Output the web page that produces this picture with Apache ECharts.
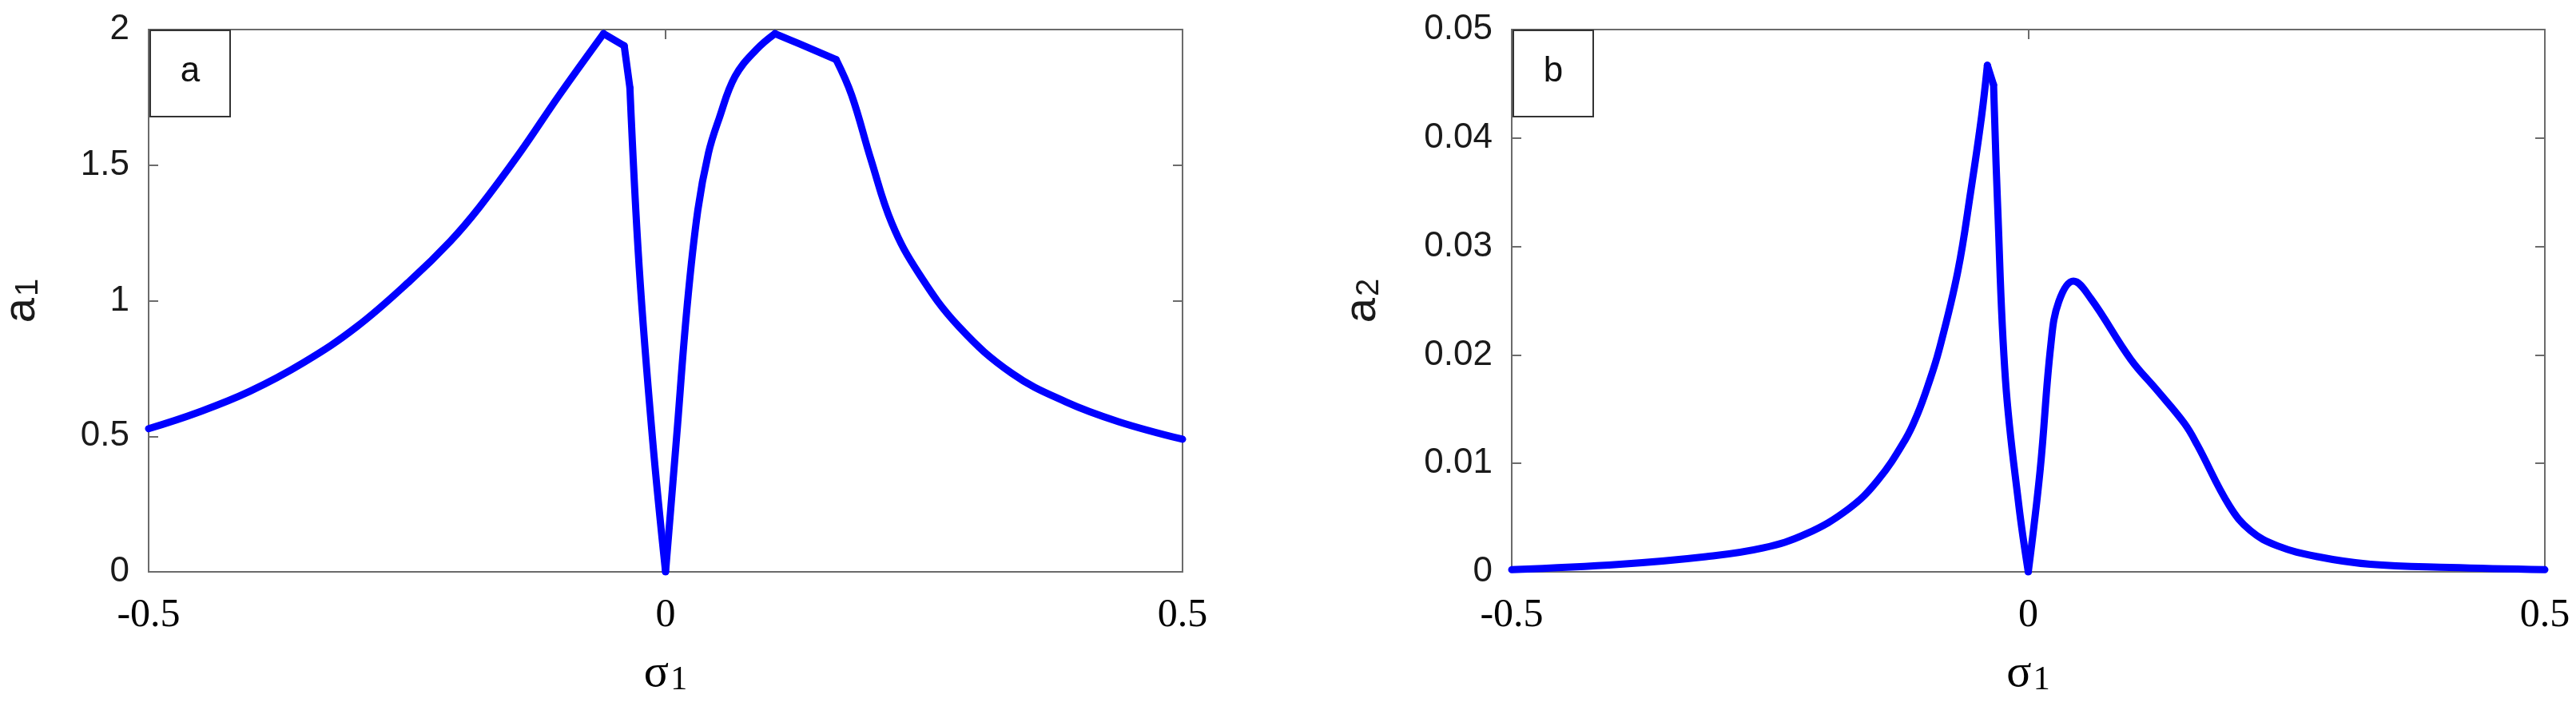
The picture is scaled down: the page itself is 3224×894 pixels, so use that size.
<!DOCTYPE html>
<html>
<head>
<meta charset="utf-8">
<title>a1, a2 versus sigma1</title>
<script src="https://cdn.jsdelivr.net/npm/echarts@6/dist/echarts.min.js"></script>
<style>
	html, body { margin: 0; padding: 0; background: #fff; }
	#chart { width: 3224px; height: 894px; }
</style>
</head>
<body>
<div id="chart"></div>
<script>
// values (sigma1 -> a1, sigma1 -> a2)
const sigmaA = [-0.5, -0.453, -0.402, -0.35, -0.299, -0.247, -0.208, -0.18, -0.141, -0.103, -0.06, -0.04, -0.0345, -0.0255, -0.0126, 0,
	0.0105, 0.0209, 0.0312, 0.0415, 0.0518, 0.0672, 0.0878, 0.1058, 0.129, 0.165, 0.18, 0.1986, 0.219, 0.245, 0.284, 0.335, 0.387, 0.438, 0.5];
const ampA1 = [0.528, 0.587, 0.666, 0.772, 0.903, 1.074, 1.22, 1.345, 1.545, 1.757, 1.985, 1.94, 1.785, 1.122, 0.489, 0,
	0.489, 0.981, 1.334, 1.545, 1.672, 1.827, 1.926, 1.985, 1.948, 1.889, 1.758, 1.521, 1.284, 1.1, 0.903, 0.732, 0.627, 0.554, 0.489];

const sigmaB = [-0.5, -0.395, -0.312, -0.257, -0.215, -0.174, -0.146, -0.119, -0.107, -0.097, -0.0865, -0.0684, -0.0555, -0.0452, -0.0396, -0.0336, -0.0298, -0.022, -0.0091, 0,
	0.0115, 0.0218, 0.0295, 0.0437, 0.0605, 0.0991, 0.125, 0.151, 0.1636, 0.1946, 0.215, 0.241, 0.28, 0.331, 0.408, 0.5];
const ampA2 = [0.0002, 0.0007, 0.0014, 0.0022, 0.0035, 0.0058, 0.0084, 0.0122, 0.0146, 0.0172, 0.0204, 0.0276, 0.0352, 0.042, 0.0467, 0.0449, 0.0341, 0.0176, 0.0061, 0,
	0.0094, 0.0209, 0.0249, 0.0268, 0.0252, 0.0196, 0.0167, 0.0137, 0.0117, 0.0061, 0.0038, 0.0024, 0.0014, 0.0007, 0.0004, 0.0002];

// sigma values where the curves have a sharp corner (curve is smoothed between them)
const kinksA = [-0.06, -0.04, -0.0345, 0, 0.1058, 0.165];
const kinksB = [-0.0396, -0.0336, 0];

const xTicks = [-0.5, 0, 0.5];
const yTicksA = [0, 0.5, 1, 1.5, 2];
const yTicksB = [0, 0.01, 0.02, 0.03, 0.04, 0.05];
const panelLabels = ["a", "b"];
const yNames = ["{m|a}{s|1}", "{m|a}{s|2}"];
const xName = "{m|σ}{s|1}";

const AXIS_GREY = "#6b6b6b";
const LINE_BLUE = "#0000ff";
const SANS = "Liberation Sans";
const SERIF = "Liberation Serif";

const grids = [
	{ left: 186, top: 37, width: 1294, height: 679 },
	{ left: 1892, top: 37, width: 1293, height: 679 },
];

const fmt = (v) => String(+v.toFixed(4));
const step = (ticks) => +(ticks[1] - ticks[0]).toFixed(6);

/**
 * @description: cut a curve into pieces at its corners, each piece shares its end points
 * @return {*} list of [x, y] arrays
 */
const splitAt = (xs, ys, kinks) => {
	const parts = [];
	let cur = [];
	xs.forEach((x, i) => {
		cur.push([x, ys[i]]);
		if (kinks.includes(x) && i > 0 && i < xs.length - 1) {
			parts.push(cur);
			cur = [[x, ys[i]]];
		}
	});
	parts.push(cur);
	return parts;
};

/**
 * @description: axis with the MATLAB box look (grey line, inside ticks)
 */
const boxAxis = (ticks, extra) => Object.assign({
	type: "value",
	min: ticks[0],
	max: ticks[ticks.length - 1],
	interval: step(ticks),
	axisLine: { show: true, onZero: false, lineStyle: { color: AXIS_GREY, width: 2 } },
	axisTick: { show: true, inside: true, length: 12, lineStyle: { color: AXIS_GREY, width: 2 } },
	splitLine: { show: false },
	axisLabel: { show: false },
}, extra);

const xLabel = { show: true, formatter: fmt, fontFamily: SERIF, fontSize: 50, color: "#000", margin: 30, showMinLabel: true, showMaxLabel: true };
const yLabel = { show: true, formatter: fmt, fontFamily: SANS, fontSize: 44, color: "#1a1a1a", margin: 24, showMinLabel: true, showMaxLabel: true };

const xNameStyle = {
	rich: {
		m: { fontFamily: SERIF, fontSize: 58, color: "#000", lineHeight: 58, verticalAlign: "top" },
		s: { fontFamily: SERIF, fontSize: 42, color: "#000", lineHeight: 42, verticalAlign: "bottom", padding: [38, 0, 0, 2] },
	},
};
const yNameStyle = {
	rich: {
		m: { fontFamily: SANS, fontSize: 56, color: "#1a1a1a", lineHeight: 56, verticalAlign: "top" },
		s: { fontFamily: SANS, fontSize: 40, color: "#1a1a1a", lineHeight: 40, verticalAlign: "bottom", padding: [30, 0, 0, 2] },
	},
};

const xAxes = [];
const yAxes = [];
[yTicksA, yTicksB].forEach((yt, g) => {
	xAxes.push(boxAxis(xTicks, { gridIndex: g, position: "bottom", axisLabel: xLabel, name: xName, nameLocation: "middle", nameGap: 99, nameMoveOverlap: false, nameTextStyle: xNameStyle }));
	xAxes.push(boxAxis(xTicks, { gridIndex: g, position: "top" }));
	yAxes.push(boxAxis(yt, { gridIndex: g, position: "left", axisLabel: yLabel, name: yNames[g], nameLocation: "middle", nameGap: g === 0 ? 130 : 158, nameMoveOverlap: false, nameTextStyle: yNameStyle }));
	yAxes.push(boxAxis(yt, { gridIndex: g, position: "right" }));
});

const lineSeries = (data, g) => ({
	type: "line",
	xAxisIndex: g * 2,
	yAxisIndex: g * 2,
	data,
	showSymbol: false,
	smooth: 0.4,
	lineStyle: { color: LINE_BLUE, width: 9, join: "round", cap: "round" },
	z: 3,
	silent: true,
});

const series = [];
splitAt(sigmaA, ampA1, kinksA).forEach((part) => series.push(lineSeries(part, 0)));
splitAt(sigmaB, ampA2, kinksB).forEach((part) => series.push(lineSeries(part, 1)));

// the little labelled boxes in the top-left corner of each panel
const labelBoxes = [];
panelLabels.forEach((txt, g) => {
	const gx = grids[g].left + 2;
	const gy = grids[g].top + 1;
	labelBoxes.push({
		type: "rect",
		shape: { x: gx, y: gy, width: 100, height: 108 },
		style: { fill: "#fff", stroke: "#333", lineWidth: 2 },
		z: 10,
	});
	labelBoxes.push({
		type: "text",
		x: gx + 50,
		y: gy + 52,
		style: { text: txt, font: `44px "${SANS}"`, fill: "#111", align: "center", verticalAlign: "middle", textAlign: "center", textVerticalAlign: "middle" },
		z: 11,
	});
});

const option = {
	animation: false,
	backgroundColor: "#fff",
	grid: grids.map((g) => Object.assign({ show: true, borderColor: AXIS_GREY, borderWidth: 2, containLabel: false, outerBoundsMode: "none" }, g)),
	xAxis: xAxes,
	yAxis: yAxes,
	series,
	graphic: labelBoxes,
};

const chart = echarts.init(document.getElementById("chart"), null, { renderer: "canvas" });
chart.setOption(option);
</script>
</body>
</html>
